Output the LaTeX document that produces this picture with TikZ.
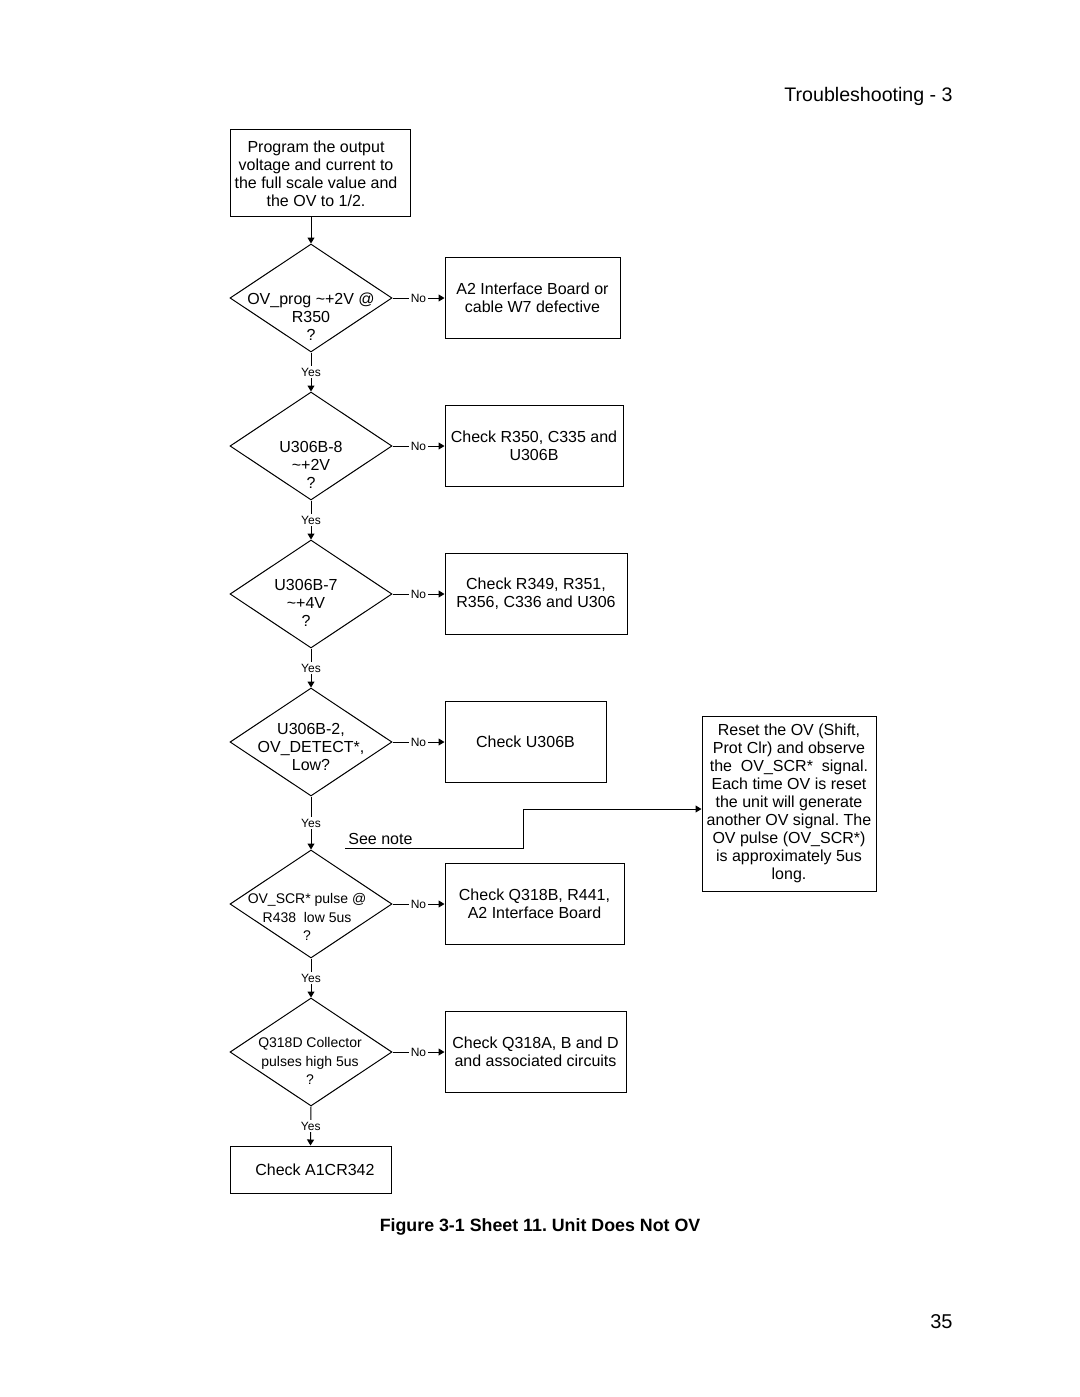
\documentclass[tikz,border=0pt]{standalone}
\usepackage{fontspec}
\setmainfont{Liberation Sans}
\frenchspacing
\usetikzlibrary{shapes.geometric,arrows.meta}
\begin{document}
\begin{tikzpicture}[x=0.5pt,y=-0.5pt,
  box/.style={draw,line width=0.5pt,rectangle,inner sep=0pt,align=center,font=\fontsize{8}{9}\selectfont},
  dia/.style={draw,line width=0.5pt,diamond,inner sep=0pt,minimum width=81pt,minimum height=54pt},
  dtxt/.style={align=center,inner sep=0pt,font=\fontsize{8}{9}\selectfont},
  stxt/.style={align=center,inner sep=0pt,font=\fontsize{7}{9.2}\selectfont},
  arr/.style={line width=0.5pt,-{Triangle[length=3pt,width=3.5pt]}},
  lab/.style={fill=white,inner sep=0.8pt,font=\fontsize{6}{7}\selectfont}]
\useasboundingbox (0,0) rectangle (1080,1397);
\fill[white] (0,0) rectangle (1080,1397);

% header / footer
\node[anchor=east,inner sep=0pt,font=\fontsize{9.8}{12}\selectfont] (hdr) at (953,96) {Troubleshooting - 3};
\node[anchor=east,inner sep=0pt,font=\fontsize{10}{12}\selectfont] (pg) at (953,1322) {35};
\node[inner sep=0pt,font=\fontsize{8.9}{11}\selectfont\bfseries] (cap) at (540,1227) {Figure 3-1 Sheet 11. Unit Does Not OV};

% start box
\node[box,minimum width=90pt,minimum height=43.5pt] (start) at (320,172.5) {};
\node[dtxt] (st) at (316,174) {Program the output\\ voltage and current to\\ the full scale value and\\ the OV to 1/2.};

% diamonds
\node[dia] (d1) at (311,298) {};
\node[dia] (d2) at (311,446) {};
\node[dia] (d3) at (311,594) {};
\node[dia] (d4) at (311,742) {};
\node[dia] (d5) at (311,904) {};
\node[dia] (d6) at (311,1052) {};

\node[dtxt] (t1) at (311,317) {OV\_prog \textasciitilde+2V @\\ R350\\ ?};
\node[dtxt] (t2) at (311,465) {U306B-8\\ \textasciitilde+2V\\ ?};
\node[dtxt] (t3) at (306,603) {U306B-7\\ \textasciitilde+4V\\ ?};
\node[dtxt] (t4) at (311,747) {U306B-2,\\ OV\_DETECT*,\\ Low?};
\node[stxt] (t5) at (307,917) {OV\_SCR* pulse @\\ R438~ low 5us\\ ?};
\node[stxt] (t6) at (310,1061) {Q318D Collector\\ pulses high 5us\\ ?};

% result boxes
\node[box,minimum width=87.5pt,minimum height=40.5pt] (b1) at (532.5,297.5) {A2 Interface Board or\\ cable W7 defective};
\node[box,minimum width=89pt,minimum height=40.5pt] (b2) at (534,445.5) {Check R350, C335 and\\ U306B};
\node[box,minimum width=91pt,minimum height=40.5pt] (b3) at (536,593.5) {Check R349, R351,\\ R356, C336 and U306};
\node[box,minimum width=80.5pt,minimum height=40.5pt] (b4) at (525.5,741.5) {Check U306B};
\node[box,minimum width=89.5pt,minimum height=40.5pt] (b5) at (534.5,903.5) {Check Q318B, R441,\\ A2 Interface Board};
\node[box,minimum width=90.5pt,minimum height=40.5pt] (b6) at (535.5,1051.5) {Check Q318A, B and D\\ and associated circuits};
\node[box,minimum width=80.5pt,minimum height=23.5pt] (fin) at (310.5,1169.5) {~~Check A1CR342};

\node[box,minimum width=87pt,minimum height=87.5pt] (note) at (789,803.5)
  {Reset the OV (Shift,\\ Prot Clr) and observe\\ the~ OV\_SCR*~ signal.\\ Each time OV is reset\\ the unit will generate\\ another OV signal. The\\ OV pulse (OV\_SCR*)\\ is approximately 5us\\ long.};

% main flow
\draw[arr] (start.south -| d1.north) -- (d1.north);
\draw[arr] (d1.south) -- node[lab]{Yes} (d2.north);
\draw[arr] (d2.south) -- node[lab]{Yes} (d3.north);
\draw[arr] (d3.south) -- node[lab]{Yes} (d4.north);
\draw[arr] (d4.south) -- node[lab,pos=0.5]{Yes} (d5.north);
\draw[arr] (d5.south) -- node[lab]{Yes} (d6.north);
\draw[arr] (d6.south) -- node[lab]{Yes} (fin.north);

% No branches
\draw[arr] (d1.east) -- node[lab]{No} (b1.west |- d1.east);
\draw[arr] (d2.east) -- node[lab]{No} (b2.west |- d2.east);
\draw[arr] (d3.east) -- node[lab]{No} (b3.west |- d3.east);
\draw[arr] (d4.east) -- node[lab]{No} (b4.west |- d4.east);
\draw[arr] (d5.east) -- node[lab]{No} (b5.west |- d5.east);
\draw[arr] (d6.east) -- node[lab]{No} (b6.west |- d6.east);

% see note
\coordinate (sn) at (345,848);
\coordinate (bend) at (523,809);
\node[anchor=west,inner sep=0pt,font=\fontsize{8}{9}\selectfont] (snt) at (348,839) {See note};
\draw[arr] (sn) -| (bend) -- (note.west |- bend);
\end{tikzpicture}
\end{document}
